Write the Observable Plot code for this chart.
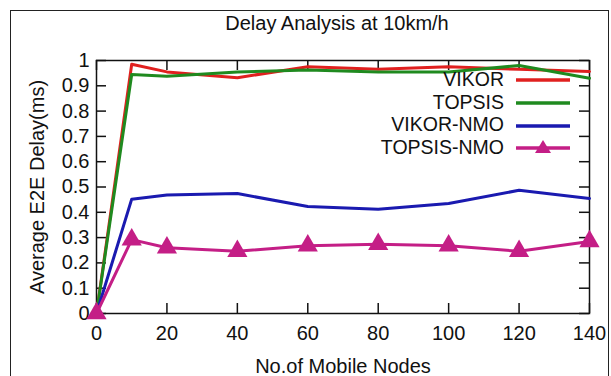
<!DOCTYPE html>
<html><head><meta charset="utf-8">
<script src="https://cdn.jsdelivr.net/npm/d3@7"></script>
<script src="https://cdn.jsdelivr.net/npm/@observablehq/plot@0.6"></script>
<style>
body{margin:0;background:#fff;font-family:"Liberation Sans",Arial,sans-serif;}
#wrap{position:relative;width:611px;height:376px;overflow:hidden;}
#border{position:absolute;left:10px;top:10px;width:599px;height:380px;border:1.5px solid #222;box-sizing:border-box;}
#title{position:absolute;left:0;width:674px;top:11px;text-align:center;font-size:20px;color:#111;line-height:24px;}
#legend{position:absolute;left:0;top:68px;width:570px;font-size:19.5px;color:#111;}
#legend .row{display:flex;align-items:center;justify-content:flex-end;height:22.7px;}
#legend svg{margin-left:12px;}
#chart{position:absolute;left:0;top:0;}
</style></head>
<body>
<div id="wrap">
<div id="border"></div>
<div id="chart"></div>
<div id="title">Delay Analysis at 10km/h</div>
<div id="legend"></div>
</div>
<script>
const nodes = [0, 10, 20, 40, 60, 80, 100, 120, 140];
const vikor = [0, 0.985, 0.955, 0.932, 0.975, 0.965, 0.975, 0.965, 0.957];
const topsis = [0, 0.945, 0.938, 0.955, 0.962, 0.955, 0.955, 0.980, 0.930];
const vikorNmo = [0, 0.452, 0.468, 0.474, 0.423, 0.412, 0.435, 0.487, 0.455];
const topsisNmo = [0, 0.292, 0.260, 0.246, 0.268, 0.274, 0.268, 0.246, 0.285];
const seriesNames = ["VIKOR", "TOPSIS", "VIKOR-NMO", "TOPSIS-NMO"];
const seriesColors = ["#e0201f", "#1f8a1f", "#1a1ab0", "#c41e86"];
const xTicks = [0, 20, 40, 60, 80, 100, 120, 140];
const yTicks = [0, 0.1, 0.2, 0.3, 0.4, 0.5, 0.6, 0.7, 0.8, 0.9, 1];

const allValues = [vikor, topsis, vikorNmo, topsisNmo];
const data = [];
allValues.forEach((vals, si) => vals.forEach((v, i) => data.push({series: seriesNames[si], x: nodes[i], y: v})));

const W = 611, H = 376;
const mL = 96, mR = 22, mT = 60, mB = 63;
const pw = W - mL - mR, ph = H - mT - mB;
const tl = 10;

const chart = Plot.plot({
  width: W, height: H,
  marginLeft: mL, marginRight: mR, marginTop: mT, marginBottom: mB,
  style: {fontFamily: '"Liberation Sans", Arial, sans-serif', fontSize: "20px", color: "#111", background: "transparent"},
  x: {domain: [0, 140]},
  y: {domain: [0, 1]},
  color: {domain: seriesNames, range: seriesColors},
  marks: [
    Plot.frame({stroke: "#111", strokeWidth: 1.5}),
    Plot.ruleX(xTicks, {x: d => d, insetTop: ph - tl, stroke: "#111", strokeWidth: 1.5}),
    Plot.ruleX(xTicks, {x: d => d, insetBottom: ph - tl, stroke: "#111", strokeWidth: 1.5}),
    Plot.ruleY(yTicks, {y: d => d, insetRight: pw - tl, stroke: "#111", strokeWidth: 1.5}),
    Plot.ruleY(yTicks, {y: d => d, insetLeft: pw - tl, stroke: "#111", strokeWidth: 1.5}),
    Plot.axisX({ticks: xTicks, tickSize: 0, tickPadding: 12, tickFormat: d => d, label: "No.of Mobile Nodes", labelAnchor: "center", labelArrow: "none", labelOffset: 59, fontSize: 20}),
    Plot.axisY({ticks: yTicks, tickSize: 0, tickPadding: 7, tickFormat: d => String(d), label: "Average E2E Delay(ms)", labelAnchor: "center", labelArrow: "none", labelOffset: 67, fontSize: 20}),
    Plot.line(data, {x: "x", y: "y", z: "series", stroke: "series", strokeWidth: 3}),
    Plot.dot(data.filter(d => d.series === "TOPSIS-NMO"), {x: "x", y: "y", symbol: "triangle", r: 7.5, fill: seriesColors[3], stroke: "none"})
  ]
});
document.getElementById("chart").appendChild(chart);

const leg = document.getElementById("legend");
seriesNames.forEach((name, i) => {
  const row = document.createElement("div");
  row.className = "row";
  const marker = name === "TOPSIS-NMO" ? `<path d="M27,3 L35,16 L19,16 Z" fill="${seriesColors[i]}"/>` : "";
  row.innerHTML = `<span>${name}</span><svg width="54" height="20"><line x1="0" y1="11" x2="54" y2="11" stroke="${seriesColors[i]}" stroke-width="3.5"/>${marker}</svg>`;
  leg.appendChild(row);
});
</script>
</body></html>
